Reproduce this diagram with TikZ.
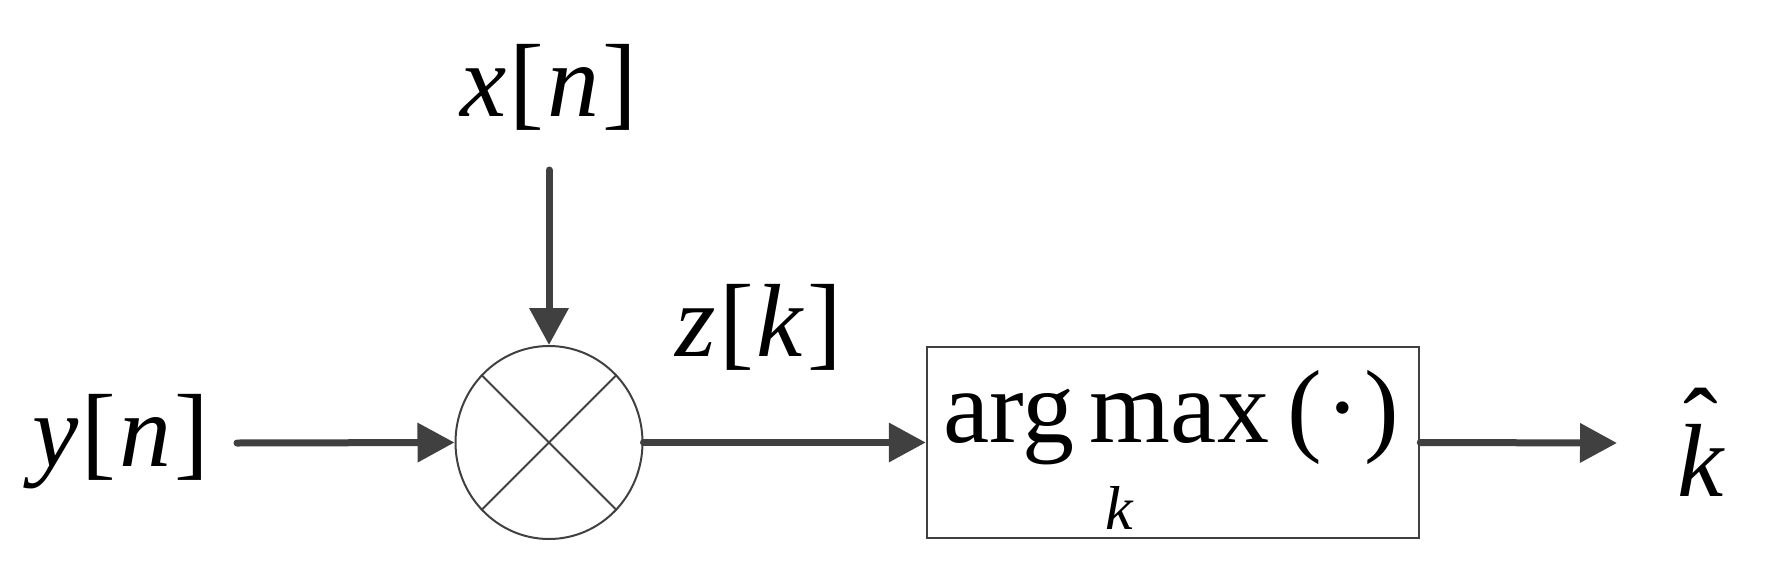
\documentclass[tikz,border=0pt]{standalone}
\usepackage{fontspec}
\setmainfont{Liberation Serif}
\usetikzlibrary{arrows.meta,shapes.geometric}
\definecolor{ln}{HTML}{404040}
\tikzset{
  lbl/.style={anchor=base,inner sep=0pt,text=black,font=\fontsize{104}{110}\selectfont},
  sublbl/.style={anchor=base,inner sep=0pt,text=black,font=\fontsize{62}{66}\selectfont\itshape},
  arr/.style={draw=ln,line width=7pt,line cap=round,-{Triangle[length=37pt,width=38pt]}},
  mixer/.style={draw=ln,ellipse,line width=2pt,minimum width=187pt,minimum height=193pt,inner sep=0pt},
  blockbox/.style={draw=ln,rectangle,line width=2.5pt,minimum width=492pt,minimum height=191pt,inner sep=0pt},
  thin/.style={draw=ln,line width=2pt}
}
\begin{document}
\begin{tikzpicture}[x=1pt,y=-1pt]
\useasboundingbox (0,0) rectangle (1770,565);
\node[mixer] (m) at (549,442.5) {};
\node[blockbox] (b) at (1173,442.5) {};
\draw[thin] (m.135) -- (m.-45);
\draw[thin] (m.45) -- (m.-135);
\node[lbl] (xn) at (549,116) {\textit{x}\kern3pt[\kern3pt\textit{n}\kern3pt]};
\node[lbl] (yn) at (121,466) {\textit{y}\kern3pt[\kern3pt\textit{n}\kern3pt]};
\node[lbl] (zk) at (759,356) {\textit{z}\kern3pt[\kern3pt\textit{k}\kern3pt]};
\node[lbl] (am) at (1171,442) {arg\kern16pt max\kern18pt(\kern4pt·\kern4pt)};
\node[sublbl] (sk) at (1119,529) {k};
\node[lbl] (kh) at (1701,496) {\ooalign{\textit{k}\cr\hidewidth\raisebox{36pt}{ˆ}\hidewidth\cr}};
\coordinate (ys) at (237,443);
\coordinate (xs) at (549,170);
\coordinate (oe) at (1617,443);
\draw[arr] (ys) -- (m.west);
\draw[arr] (xs) -- (m.north);
\draw[arr] (m.east) -- (b.west);
\draw[arr] (b.east) -- (oe);
\end{tikzpicture}
\end{document}
